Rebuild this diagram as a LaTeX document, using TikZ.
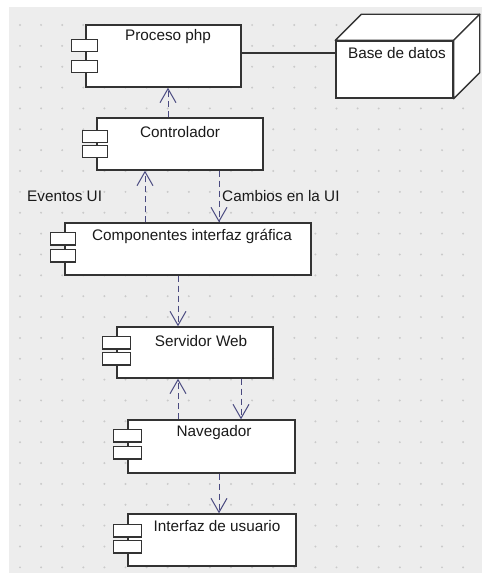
\documentclass[tikz,border=0pt]{standalone}
\usepackage{fontspec}
\setmainfont{Liberation Sans}
\usetikzlibrary{arrows.meta,calc}

\definecolor{canvas}{HTML}{EDEDED}
\definecolor{griddot}{HTML}{CACACA}
\definecolor{edge}{HTML}{333333}
\definecolor{dep}{HTML}{4A4A80}
\definecolor{ink}{HTML}{1A1A1A}

% two small port rectangles on the left edge of a component box
\newcommand{\compports}[4]{%
  \draw[portbox] ($(#1.north west)+(-14,#2)$) rectangle ++(#4,12.5);
  \draw[portbox] ($(#1.north west)+(-14,#3)$) rectangle ++(#4,12.5);
}

\begin{document}
\begin{tikzpicture}[x=1pt,y=-1pt,
  comp/.style={draw=edge,line width=1.4pt,fill=white,inner sep=0pt,rectangle},
  portbox/.style={draw=edge,line width=1.4pt,fill=white},
  lbl/.style={inner sep=0pt,text=ink,font=\fontsize{15.3}{18}\selectfont},
  depline/.style={draw=dep,line width=1pt,dash pattern=on 6pt off 4pt,
    -{Straight Barb[length=14pt,width=16pt,line width=1pt]}},
  solidline/.style={draw=edge,line width=1.4pt}]

\useasboundingbox (0,0) rectangle (482,577);
\fill[white] (0,0) rectangle (482,577);
\fill[canvas] (9,7) rectangle (482,573);

% dotted background grid
\foreach \i in {0,...,21}{
  \foreach \j in {0,...,26}{
    \fill[griddot] ({20+21.1*\i},{25+20.86*\j}) circle (1.1pt);
  }
}

% component boxes
\node[comp,minimum width=155pt,minimum height=62pt] (proc) at (163.5,56) {};
\node[comp,minimum width=166pt,minimum height=52pt] (ctrl) at (180,144) {};
\node[comp,minimum width=246pt,minimum height=52pt] (gui)  at (188,249) {};
\node[comp,minimum width=156pt,minimum height=51pt] (web)  at (195,352.5) {};
\node[comp,minimum width=167pt,minimum height=53pt] (nav)  at (211.5,446.5) {};
\node[comp,minimum width=168pt,minimum height=52pt] (ui)   at (212,540) {};

\compports{proc}{15}{36}{26}
\compports{ctrl}{13}{28}{25}
\compports{gui}{10}{27}{25}
\compports{web}{10}{26}{28}
\compports{nav}{10}{27}{28}
\compports{ui}{11}{27}{28}

% box titles
\node[lbl] (procT) at (168,37)  {Proceso php};
\node[lbl] (ctrlT) at (180,132) {Controlador};
\node[lbl] (guiT)  at (192,236) {Componentes interfaz gráfica};
\node[lbl] (webT)  at (201,341) {Servidor Web};
\node[lbl] (navT)  at (214,433) {Navegador};
\node[lbl] (uiT)   at (217,526) {Interfaz de usuario};

% database node drawn as a cube
\node[comp,minimum width=117pt,minimum height=57pt] (db) at (394.5,69.5) {};
\filldraw[fill=white,draw=edge,line width=1.4pt,line join=round]
  (db.north west) -- ++(26,-26) -- ($(db.north east)+(26,-26)$) -- (db.north east) -- cycle;
\filldraw[fill=white,draw=edge,line width=1.4pt,line join=round]
  (db.north east) -- ++(26,-26) -- ($(db.south east)+(26,-26)$) -- (db.south east) -- cycle;
\node[lbl] (dbT) at (397,53) {Base de datos};

% association between the php process and the database
\coordinate (link) at (0,53);
\draw[solidline] (proc.east |- link) -- (db.west |- link);

% dependencies
\draw[depline] (ctrl.north -| 168,0) -- (proc.south -| 168,0);
\draw[depline] (gui.north -| 145,0) -- (ctrl.south -| 145,0);
\draw[depline] (ctrl.south -| 219,0) -- (gui.north -| 219,0);
\draw[depline] (gui.south -| 178,0) -- (web.north -| 178,0);
\draw[depline] (nav.north -| 178,0) -- (web.south -| 178,0);
\draw[depline] (web.south -| 241,0) -- (nav.north -| 241,0);
\draw[depline] (nav.south -| 219,0) -- (ui.north -| 219,0);

% dependency labels
\node[lbl,anchor=west] (evT) at (27,196) {Eventos UI};
\node[lbl,anchor=west] (chT) at (222,196) {Cambios en la UI};

\end{tikzpicture}
\end{document}
